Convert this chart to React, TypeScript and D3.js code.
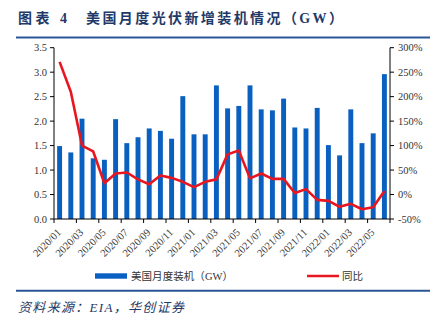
import React from "react";
import * as d3 from "d3";

const months: string[] = [
  "2020/01","2020/02","2020/03","2020/04","2020/05","2020/06","2020/07","2020/08","2020/09","2020/10","2020/11","2020/12",
  "2021/01","2021/02","2021/03","2021/04","2021/05","2021/06","2021/07","2021/08","2021/09","2021/10","2021/11","2021/12",
  "2022/01","2022/02","2022/03","2022/04","2022/05","2022/06",
];
const installs: number[] = [
  1.49, 1.36, 2.05, 1.24, 1.21, 2.04, 1.55, 1.67, 1.85, 1.80, 1.64, 2.51,
  1.73, 1.73, 2.73, 2.26, 2.31, 2.73, 2.24, 2.22, 2.46, 1.87, 1.85, 2.27,
  1.51, 1.30, 2.24, 1.55, 1.75, 2.96,
];
const yoy: number[] = [
  271, 210, 100, 88, 23, 43, 45, 31, 21, 39, 34, 26,
  15, 26, 31, 82, 90, 33, 43, 32, 32, 3, 11, -11,
  -13, -25, -19, -30, -26, 7,
];
const leftTicks: number[] = [0, 0.5, 1, 1.5, 2, 2.5, 3, 3.5];
const rightTicks: number[] = [-50, 0, 50, 100, 150, 200, 250, 300];
const labelMonths: string[] = months.filter((_, i) => i % 2 === 0);

const W = 438, H = 322;
const X0 = 54, X1 = 390, YT = 47.7, YB = 219;
const serif = "'Liberation Serif', 'Times New Roman', 'Noto Sans CJK SC', serif";
const cjk = "'Liberation Serif', 'Noto Sans CJK SC', serif";

export default function App() {
  const x = d3.scaleBand<string>().domain(months).range([X0, X1]).padding(0);
  const yL = d3.scaleLinear().domain([0, 3.5]).range([YB, YT]);
  const yR = d3.scaleLinear().domain([-50, 300]).range([YB, YT]);
  const bw = x.bandwidth() * 0.44;
  const cx = (m: string) => (x(m) as number) + x.bandwidth() / 2;
  const line = d3.line<number>().x((_, i) => cx(months[i])).y((d) => yR(d));

  return (
    <svg width={W} height={H} style={{ position: "absolute", left: 0, top: 0, background: "#fff" }}>
      {/* Title */}
      <text x={18} y={23} fontFamily={cjk} fontWeight="bold" fontSize={14} fill="#1F3A68" textLength={49} lengthAdjust="spacing">图表 4</text>
      <text x={86} y={23} fontFamily={cjk} fontWeight="bold" fontSize={14} fill="#1F3A68" textLength={257} lengthAdjust="spacing">美国月度光伏新增装机情况（GW）</text>
      <line x1={16} x2={430} y1={37.5} y2={37.5} stroke="#2B5597" strokeWidth={2} />

      {/* Bars */}
      {installs.map((v, i) => (
        <rect key={i} x={cx(months[i]) - bw / 2} y={yL(v)} width={bw} height={YB - yL(v)} fill="#0A60C0" />
      ))}

      {/* Line */}
      <path d={line(yoy) || ""} fill="none" stroke="#E8161F" strokeWidth={2.6} strokeLinejoin="round" />

      {/* Left axis */}
      <line x1={X0} x2={X0} y1={YT} y2={YB} stroke="#000" strokeWidth={1} />
      {leftTicks.map((t) => (
        <g key={t}>
          <line x1={X0 - 4} x2={X0} y1={yL(t)} y2={yL(t)} stroke="#000" />
          <text x={X0 - 7} y={yL(t) + 3.5} textAnchor="end" fontFamily={serif} fontSize={10.5} fill="#333">{t.toFixed(1)}</text>
        </g>
      ))}

      {/* Right axis */}
      <line x1={X1} x2={X1} y1={YT} y2={YB} stroke="#000" strokeWidth={1} />
      {rightTicks.map((t) => (
        <g key={t}>
          <line x1={X1} x2={X1 + 4} y1={yR(t)} y2={yR(t)} stroke="#000" />
          <text x={X1 + 8} y={yR(t) + 3.5} textAnchor="start" fontFamily={serif} fontSize={10.5} fill="#333">{t + "%"}</text>
        </g>
      ))}

      {/* X axis */}
      <line x1={X0} x2={X1} y1={YB} y2={YB} stroke="#000" strokeWidth={1} />
      {d3.range(0, months.length + 1, 2).map((i) => {
        const bx = X0 + i * x.bandwidth();
        return <line key={i} x1={bx} x2={bx} y1={YB} y2={YB + 4} stroke="#000" />;
      })}
      {labelMonths.map((m) => (
        <text key={m} transform={`translate(${cx(m) + 2},${YB + 14}) rotate(-45)`} textAnchor="end" fontFamily={serif} fontSize={10.5} fill="#333">{m}</text>
      ))}

      {/* Legend */}
      <rect x={95} y={273.3} width={32} height={5.4} fill="#0A60C0" />
      <text x={131} y={280} fontFamily={cjk} fontSize={10.5} fill="#333" textLength={102} lengthAdjust="spacing">美国月度装机（GW）</text>
      <line x1={307} x2={339} y1={276} y2={276} stroke="#E8161F" strokeWidth={2.5} />
      <text x={342} y={280} fontFamily={cjk} fontSize={10.5} fill="#333">同比</text>

      {/* Footer */}
      <line x1={16} x2={430} y1={290.7} y2={290.7} stroke="#2B5597" strokeWidth={2} />
      <text x={18} y={312} fontFamily={cjk} fontStyle="italic" fontSize={13} fill="#1F3A68" textLength={166} lengthAdjust="spacing">资料来源：EIA，华创证券</text>
    </svg>
  );
}
